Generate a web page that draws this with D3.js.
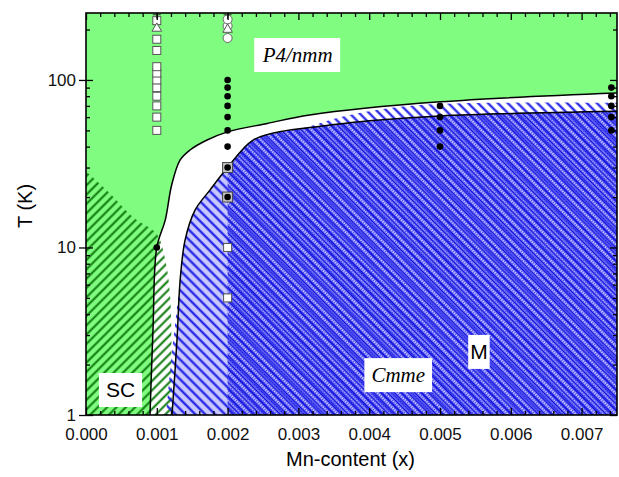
<!DOCTYPE html>
<html>
<head>
<meta charset="utf-8">
<script src="https://cdn.jsdelivr.net/npm/d3@7"></script>
<style>
  body { margin: 0; background: #fff; }
  .tick text { font-family: "Liberation Sans", Arial, sans-serif; font-size: 17px; fill: #111; }
</style>
</head>
<body>
<div class="chart"></div>
<script>
// phase boundaries (x = Mn content, T in K)
var upperX = [0.000904, 0.000946, 0.001, 0.00112, 0.00121, 0.00133, 0.00147, 0.00171, 0.002, 0.00256, 0.00316, 0.005, 0.0075];
var upperT = [1, 3.2, 10, 14.6, 23.6, 33.3, 38.2, 43.8, 49, 55, 61.8, 74, 83.5];
var lowerX = [0.001215, 0.001285, 0.00133, 0.0014, 0.00154, 0.00175, 0.002, 0.00236, 0.00284, 0.00316, 0.004, 0.005, 0.0075];
var lowerT = [1, 2.8, 6.4, 11.1, 16.7, 22, 30, 43.8, 50, 52, 57, 61, 65];
// outline of the magnetic (M) hatching
var mX = [0.00113, 0.00122, 0.0013, 0.0014, 0.00154, 0.00175, 0.002, 0.00236, 0.00284, 0.0031, 0.0036, 0.0042, 0.005, 0.0075];
var mT = [1, 2.5, 5, 11.1, 16.7, 22, 30, 43.8, 50, 52, 60, 67, 72, 73];
// outline of the superconducting (SC) hatching
var scX = [0, 0.00034, 0.00066, 0.001, 0.00112, 0.00119, 0.00121];
var scT = [28.5, 21, 15.2, 12, 8.4, 5, 1];

// measured points [x, T]
var openSquares = [[0.001, 50], [0.001, 60], [0.001, 70], [0.001, 80], [0.001, 90], [0.001, 100],
  [0.001, 110], [0.001, 120], [0.001, 150], [0.001, 175], [0.001, 226], [0.002, 10], [0.002, 5]];
var boxedDots = [[0.002, 30], [0.002, 20]];
var filledDots = [[0.001, 10],
  [0.002, 40], [0.002, 50], [0.002, 60], [0.002, 70], [0.002, 80], [0.002, 90], [0.002, 100],
  [0.005, 40], [0.005, 50], [0.005, 60], [0.005, 70],
  [0.00742, 50], [0.00742, 60], [0.00742, 70], [0.00742, 80], [0.00742, 90]];
var openCircles = [[0.002, 178], [0.002, 210], [0.002, 230]];
var triangles = [[0.001, 203], [0.002, 200]];
var pluses = [[0.001, 245], [0.002, 245]];

var xTicks = [0, 0.001, 0.002, 0.003, 0.004, 0.005, 0.006, 0.007];
var yTicks = [1, 10, 100];

// phase labels [text, x, T, face, padding]
var labels = [
  ["P4/nmm", 0.00299, 141, "serif", 7.5],
  ["Cmme", 0.00441, 1.73, "serif", 7],
  ["M", 0.00555, 2.38, "sans", 2],
  ["SC", 0.000487, 1.41, "sans", 7]
];

var svgWidth = 619;
var svgHeight = 477;
var margin = { top: 13, right: 2, bottom: 62, left: 86 };
var width = svgWidth - margin.left - margin.right;
var height = svgHeight - margin.top - margin.bottom;

var svg = d3.select(".chart").append("svg")
  .attr("width", svgWidth)
  .attr("height", svgHeight);

var defs = svg.append("defs");
defs.append("clipPath").attr("id", "plotClip")
  .append("rect").attr("width", width).attr("height", height);

function hatch(id, angle, gap, tall, color, w) {
  var p = defs.append("pattern").attr("id", id)
    .attr("patternUnits", "userSpaceOnUse")
    .attr("width", gap).attr("height", tall)
    .attr("patternTransform", "rotate(" + angle + ")");
  p.append("line")
    .attr("x1", gap / 2).attr("y1", -1).attr("x2", gap / 2).attr("y2", tall + 1)
    .attr("stroke", color).attr("stroke-width", w);
  return p;
}
hatch("scHatch", 45, 6.6, 6.6, "#0a780a", 2);
hatch("mHatch", -45, 7, 7, "#1414e4", 2.1);
// dense ladder-like hatch of the Cmme + M overlap
var dense = hatch("denseHatch", -45, 4.8, 2.4, "#1010dc", 1.8);
dense.append("line")
  .attr("x1", 3.3).attr("y1", 1.2).attr("x2", 6.3).attr("y2", 1.2)
  .attr("stroke", "#4a4af2").attr("stroke-width", 1);
dense.append("line")
  .attr("x1", -1.5).attr("y1", 1.2).attr("x2", 1.5).attr("y2", 1.2)
  .attr("stroke", "#4a4af2").attr("stroke-width", 1);

var chartGroup = svg.append("g")
  .attr("transform", `translate(${margin.left}, ${margin.top})`);

var x = d3.scaleLinear().domain([0, 0.0075]).range([0, width]);
var y = d3.scaleLog().domain([1, 251]).range([height, 0]);

var plot = chartGroup.append("g").attr("clip-path", "url(#plotClip)");

function zipped(xs, ts) {
  return xs.map((v, i) => [v, ts[i]]);
}
var smooth = d3.curveCatmullRom.alpha(0.5);
var area = d3.area()
  .x(d => x(d[0]))
  .y0(height)
  .y1(d => y(d[1]))
  .curve(smooth);
var line = d3.line()
  .x(d => x(d[0]))
  .y(d => y(d[1]))
  .curve(smooth);

var upper = zipped(upperX, upperT);
var lower = zipped(lowerX, lowerT);

// backgrounds
plot.append("rect").attr("width", width).attr("height", height).attr("fill", "#80fc80");
plot.append("path").datum(upper.concat([[0.0076, 84]])).attr("d", area).attr("fill", "#fff");
plot.append("path").datum(lower.concat([[0.0076, 65]])).attr("d", area).attr("fill", "#c8c8ff");

// hatched regions
plot.append("path").datum(zipped(scX, scT)).attr("d", area).attr("fill", "url(#scHatch)");
plot.append("path").datum(zipped(mX, mT).concat([[0.0076, 73]])).attr("d", area).attr("fill", "url(#mHatch)");
plot.append("path").datum(lower.filter(d => d[0] >= 0.002).concat([[0.0076, 65]]))
  .attr("d", d3.area().x(d => x(d[0])).y0(height).y1(d => y(d[1])).curve(d3.curveMonotoneX))
  .attr("fill", "url(#denseHatch)");

// boundary lines
plot.append("path").datum(upper).attr("d", line)
  .attr("fill", "none").attr("stroke", "#000").attr("stroke-width", 1.5);
plot.append("path").datum(lower).attr("d", line)
  .attr("fill", "none").attr("stroke", "#000").attr("stroke-width", 1.5);

// data markers
plot.selectAll("rect.sq").data(openSquares).enter().append("rect")
  .attr("class", "sq")
  .attr("x", d => x(d[0]) - 4).attr("y", d => y(d[1]) - 4)
  .attr("width", 8).attr("height", 8)
  .attr("fill", "#fff").attr("stroke", "#555").attr("stroke-width", 1);
plot.selectAll("rect.bx").data(boxedDots).enter().append("rect")
  .attr("class", "bx")
  .attr("x", d => x(d[0]) - 5).attr("y", d => y(d[1]) - 5)
  .attr("width", 10).attr("height", 10)
  .attr("fill", "#c4c4c4").attr("stroke", "#444").attr("stroke-width", 1);
plot.selectAll("circle.oc").data(openCircles).enter().append("circle")
  .attr("class", "oc")
  .attr("cx", d => x(d[0])).attr("cy", d => y(d[1])).attr("r", 4.5)
  .attr("fill", "#fff").attr("stroke", "#666").attr("stroke-width", 1);
plot.selectAll("path.tri").data(triangles).enter().append("path")
  .attr("class", "tri")
  .attr("d", d3.symbol(d3.symbolTriangle, 40))
  .attr("transform", d => `translate(${x(d[0])}, ${y(d[1])})`)
  .attr("fill", "#fff").attr("stroke", "#555").attr("stroke-width", 1);
plot.selectAll("path.pl").data(pluses).enter().append("path")
  .attr("class", "pl")
  .attr("d", "M-4,0H4M0,-4V4")
  .attr("transform", d => `translate(${x(d[0])}, ${y(d[1])})`)
  .attr("stroke", "#333").attr("stroke-width", 1.2);
plot.selectAll("circle.fd").data(filledDots.concat(boxedDots)).enter().append("circle")
  .attr("class", "fd")
  .attr("cx", d => x(d[0])).attr("cy", d => y(d[1])).attr("r", 3.3)
  .attr("fill", "#000");

// phase labels
labels.forEach(function(l) {
  var g = chartGroup.append("g");
  var t = g.append("text")
    .attr("x", x(l[1])).attr("y", y(l[2]))
    .attr("text-anchor", "middle")
    .attr("dy", "0.35em")
    .style("font-family", l[3] == "serif" ? "'Liberation Serif', 'Times New Roman', serif" : "'Liberation Sans', Arial, sans-serif")
    .style("font-style", l[3] == "serif" ? "italic" : "normal")
    .style("font-size", "21px")
    .attr("fill", "#000")
    .text(l[0]);
  var b = t.node().getBBox();
  g.insert("rect", "text")
    .attr("x", b.x - l[4]).attr("y", y(l[2]) - 17)
    .attr("width", b.width + 2 * l[4]).attr("height", 34)
    .attr("fill", "#fff");
});

// axes
var minorX = d3.range(0, 0.00751, 0.0002).filter(v => Math.abs(v * 1000 - Math.round(v * 1000)) > 1e-6);
var minorY = [2, 3, 4, 5, 6, 7, 8, 9, 20, 30, 40, 50, 60, 70, 80, 90, 200];

chartGroup.append("g")
  .attr("transform", `translate(0, ${height})`)
  .call(d3.axisBottom(x).tickValues(xTicks).tickFormat(d3.format(".3f")).tickSize(-7).tickPadding(13));
chartGroup.append("g")
  .attr("transform", `translate(0, ${height})`)
  .call(d3.axisBottom(x).tickValues(minorX).tickFormat("").tickSize(-4));
chartGroup.append("g")
  .call(d3.axisTop(x).tickValues(xTicks).tickFormat("").tickSize(-7));
chartGroup.append("g")
  .call(d3.axisTop(x).tickValues(minorX).tickFormat("").tickSize(-4));

chartGroup.append("g")
  .call(d3.axisLeft(y).tickValues(yTicks).tickFormat(d3.format("d")).tickSize(-7).tickPadding(10));
chartGroup.append("g")
  .call(d3.axisLeft(y).tickValues(yTicks).tickFormat("").tickSize(7));
chartGroup.append("g")
  .call(d3.axisLeft(y).tickValues(minorY).tickFormat("").tickSize(-4));
chartGroup.append("g")
  .attr("transform", `translate(${width}, 0)`)
  .call(d3.axisRight(y).tickValues(yTicks).tickFormat("").tickSize(-7));
chartGroup.append("g")
  .attr("transform", `translate(${width}, 0)`)
  .call(d3.axisRight(y).tickValues(minorY).tickFormat("").tickSize(-4));

chartGroup.selectAll(".domain").remove();
chartGroup.selectAll(".tick line").attr("stroke", "#000").attr("stroke-width", 1.3);

// frame
chartGroup.append("rect")
  .attr("width", width).attr("height", height)
  .attr("fill", "none").attr("stroke", "#000").attr("stroke-width", 1.6);

// axis titles
chartGroup.append("text")
  .attr("x", width / 2 - 1).attr("y", height + 51)
  .attr("text-anchor", "middle")
  .style("font-family", "'Liberation Sans', Arial, sans-serif")
  .style("font-size", "20px")
  .text("Mn-content (x)");
chartGroup.append("text")
  .attr("transform", "rotate(-90)")
  .attr("x", -(height / 2) + 8).attr("y", -61)
  .attr("dy", "0.35em")
  .attr("text-anchor", "middle")
  .style("font-family", "'Liberation Sans', Arial, sans-serif")
  .style("font-size", "20px")
  .text("T (K)");
</script>
</body>
</html>
